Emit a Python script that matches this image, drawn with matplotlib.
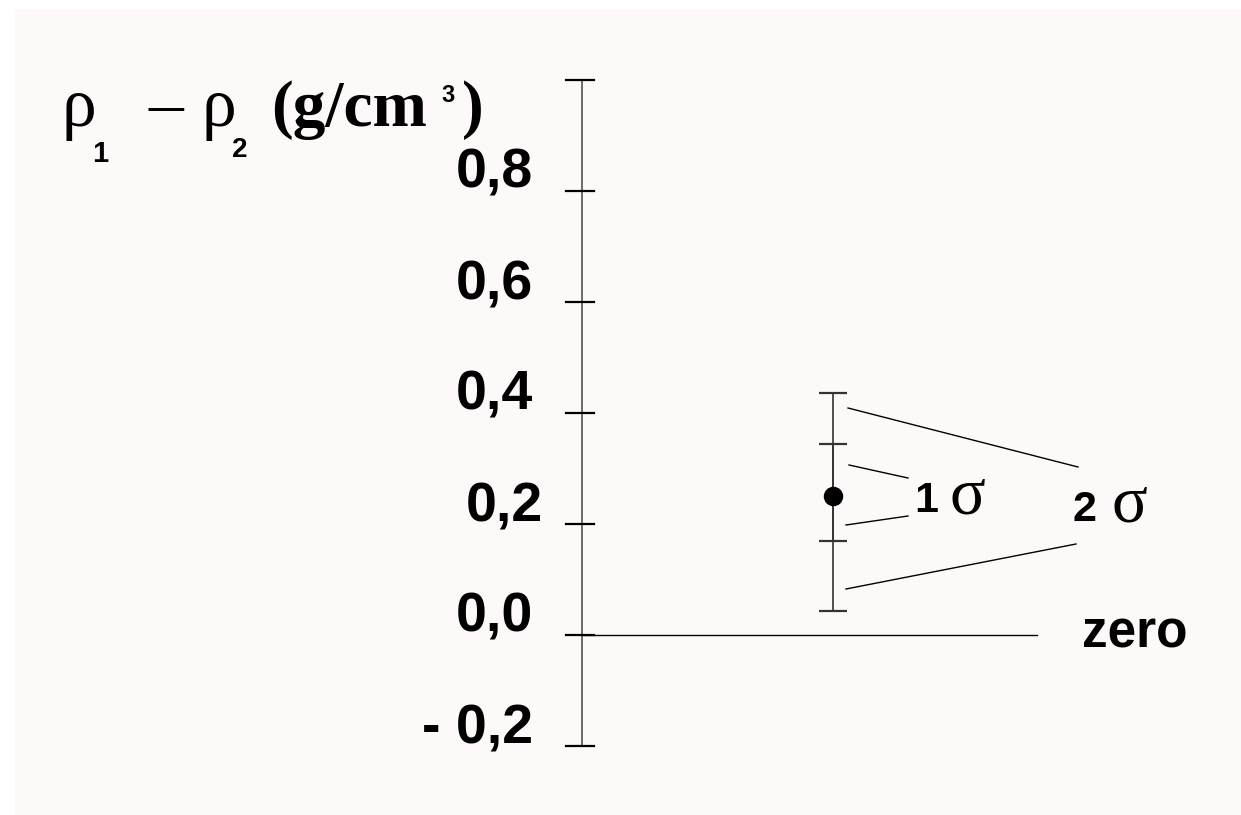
import matplotlib.pyplot as plt
from matplotlib.patches import Rectangle

# Vertical axis ticks and labels (g/cm3)
tick_values = [-0.2, 0.0, 0.2, 0.4, 0.6, 0.8, 1.0]
tick_labels = ["- 0,2", "0,0", "0,2", "0,4", "0,6", "0,8", ""]

# Measured density difference with its 1 sigma and 2 sigma ranges
rho_diff = 0.25
sigma1_range = [0.168, 0.343]
sigma2_range = [0.043, 0.435]

W, H = 1241, 815
ZERO_PX = 634.5   # pixel row of the 0,0 tick
UNIT_PX = 555.0   # pixels per 1 g/cm3
AXIS_X = 582
BAR_X = 833

SANS = "Liberation Sans"
SERIF = "Liberation Serif"


def yv(p):
    # pixel row (from top) -> axis value, used only for layout of texts/leaders
    return (ZERO_PX - p) / UNIT_PX


fig = plt.figure(figsize=(W / 100, H / 100), dpi=100)
fig.patch.set_facecolor("white")
fig.patches.append(Rectangle((15 / W, 0), 1, 1 - 9 / H, transform=fig.transFigure,
                             facecolor="#fdf9f8", edgecolor="none", zorder=-5))
ax = fig.add_axes([0, 0, 1, 1])
ax.set_xlim(0, W)
ax.set_ylim(yv(H), yv(0))
ax.axis("off")

# hand-drawn style axis with ticks
ax.plot([AXIS_X, AXIS_X], [tick_values[0], tick_values[-1]], color="#444444", lw=1.1)
for v, lab in zip(tick_values, tick_labels):
    ax.plot([566, 594], [v, v], color="black", lw=1.6)
    x_right = 543 if lab == "0,2" else 533
    ax.text(x_right, v + 2.5 / UNIT_PX, lab, ha="right", va="baseline",
            fontsize=40, fontweight="bold", family=SANS)

# zero reference line
ax.plot([AXIS_X, 1037], [0, 0], color="black", lw=1.0)
ax.text(1082, yv(647), "zero", ha="left", va="baseline", fontsize=37,
        fontweight="bold", family=SANS)

# error bars: 2 sigma and 1 sigma
ax.errorbar([BAR_X], [rho_diff],
            yerr=[[rho_diff - sigma2_range[0]], [sigma2_range[1] - rho_diff]],
            fmt="none", ecolor="#333333", elinewidth=1.2, capsize=10, capthick=1.6)
ax.errorbar([BAR_X], [rho_diff],
            yerr=[[rho_diff - sigma1_range[0]], [sigma1_range[1] - rho_diff]],
            fmt="none", ecolor="#333333", elinewidth=1.2, capsize=10, capthick=1.6)
ax.plot([BAR_X], [rho_diff], "o", ms=13, color="black")

# leader lines to the sigma labels
leaders = [((848, 408), (1078, 467)), ((846, 589), (1076, 544)),
           ((849, 465), (908, 478)), ((846, 525), (908, 516))]
for (x0, y0), (x1, y1) in leaders:
    ax.plot([x0, x1], [yv(y0), yv(y1)], color="black", lw=1.0)

ax.text(914, yv(512), "1", ha="left", va="baseline", fontsize=31, fontweight="bold", family=SANS)
ax.text(950, yv(513), "σ", ha="left", va="baseline", fontsize=48, family=SERIF)
ax.text(1073, yv(521), "2", ha="left", va="baseline", fontsize=31, fontweight="bold", family=SANS)
ax.text(1112, yv(522), "σ", ha="left", va="baseline", fontsize=48, family=SERIF)

# axis title: rho_1 - rho_2 (g/cm^3)
ax.text(62, yv(126), "ρ", ha="left", va="baseline", fontsize=50, family=SERIF)
ax.text(92, yv(162), "1", ha="left", va="baseline", fontsize=21, fontweight="bold", family=SANS)
ax.text(149, yv(126), "–", ha="left", va="baseline", fontsize=50, family=SERIF)
ax.text(202, yv(126), "ρ", ha="left", va="baseline", fontsize=50, family=SERIF)
ax.text(232, yv(157), "2", ha="left", va="baseline", fontsize=20, fontweight="bold", family=SANS)
ax.text(271, yv(126), "(g/cm", ha="left", va="baseline", fontsize=47, fontweight="bold", family=SERIF)
ax.text(441, yv(102), "3", ha="left", va="baseline", fontsize=17, fontweight="bold", family=SANS)
ax.text(462, yv(126), ")", ha="left", va="baseline", fontsize=47, fontweight="bold", family=SERIF)

fig.savefig("out.png", dpi=100)
